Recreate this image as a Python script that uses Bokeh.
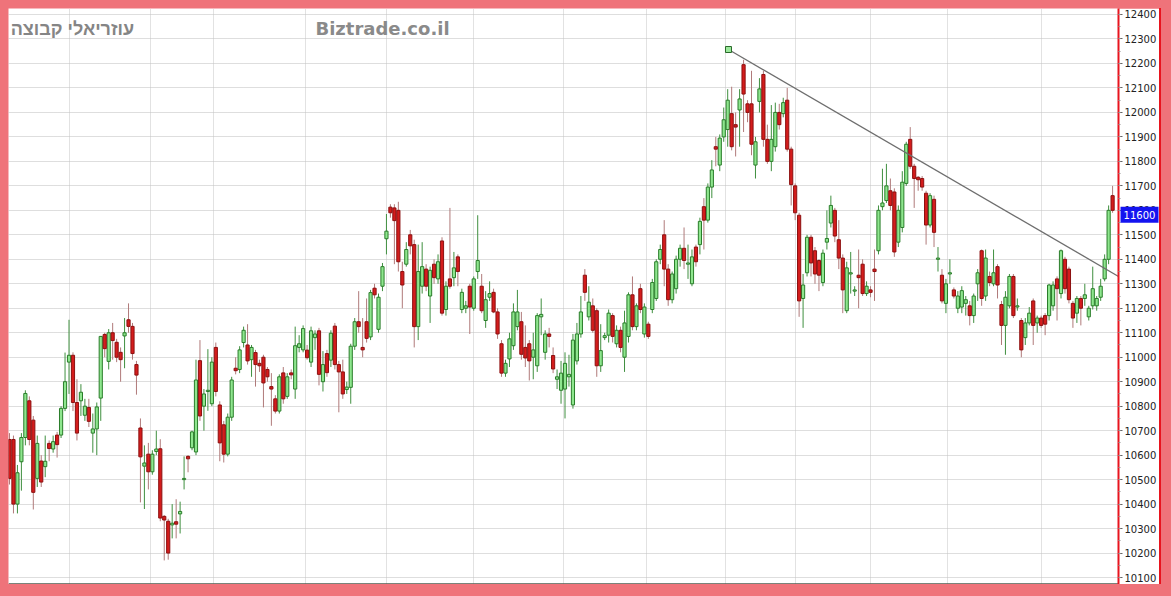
import numpy as np
from bokeh.plotting import figure
from bokeh.models import ColumnDataSource, FixedTicker, Label, Range1d, Grid
from bokeh.core.properties import value
from bokeh.embed import file_html
from bokeh.resources import INLINE

# ---- data ----
opens = [10664,10664,10400,10573,10672,10822,10743,10505,10576,10553,10648,10625,10682,10682,10791,10980,11008,10815,10822,10763,
         10795,10690,10707,10833,11093,10983,11100,11061,11020,11087,11153,11126,10970,10711,10555,10604,10532,10615,10626,10350,
         10330,10315,10328,10360,10500,10595,10630,10613,10986,10800,10860,10810,11040,10805,10724,10604,10755,10955,10950,11060,
         11050,10990,11019,10975,11000,10950,10880,10830,10780,10936,10840,10936,10870,11040,11030,11029,10980,11080,11108,10900,
         11015,10988,11127,10970,10940,10868,10877,11045,11145,11040,11145,11083,11282,11114,11290,11484,11613,11610,11600,11350,
         11380,11500,11460,11125,11290,11360,11250,11380,11320,11475,11195,11320,11325,11410,11195,11200,11290,11200,11350,11290,
         11150,11245,11265,11185,11055,10935,10993,11047,11125,11145,11040,11055,11000,10965,11165,11020,11095,11007,10910,10865,
         10870,10920,10805,10985,11095,11335,11165,11210,11190,10965,11080,11090,11170,11055,11110,11000,11085,11255,11125,11280,
         11095,11135,11195,11240,11400,11500,11360,11235,11280,11400,11445,11380,11300,11450,11460,11615,11560,11695,11860,11785,
         11900,11930,11995,11950,12010,12195,12035,12035,11785,12045,12155,11890,11800,11860,12000,11995,12050,11850,11700,11580,
         11240,11345,11490,11435,11395,11305,11470,11548,11600,11480,11405,11190,11340,11270,11335,11380,11260,11275,11360,11435,
         11615,11640,11680,11675,11470,11530,11710,11890,11780,11735,11730,11670,11540,11645,11400,11335,11220,11340,11275,11200,
         11205,11220,11210,11170,11300,11435,11250,11330,11300,11370,11215,11130,11210,11330,11205,11150,11080,11140,11230,11140,
         11160,11170,11170,11210,11320,11260,11400,11360,11220,11180,11240,11240,11165,11210,11210,11245,11320,11400,11660]
highs = [10690,10680,10560,10690,10865,10840,10760,10680,10600,10680,10660,10680,10695,10800,11019,11153,11020,10910,10890,10830,
         10830,10770,10815,11085,11100,11115,11140,11075,11040,11160,11220,11140,10985,10750,10640,10650,10620,10700,10665,10355,
         10340,10400,10420,10410,10595,10600,10700,10990,11070,10870,11033,11000,11060,10820,10740,10770,10920,11000,11045,11125,
         11135,11050,11030,10990,11010,10960,10935,10845,10930,10960,10935,10950,11125,11090,11130,11050,11125,11110,11120,11025,
         11030,11110,11140,10985,10990,10900,11055,11160,11270,11160,11240,11275,11300,11260,11385,11585,11625,11625,11635,11390,
         11470,11520,11480,11460,11470,11380,11370,11400,11420,11490,11310,11610,11430,11420,11280,11230,11300,11330,11580,11340,
         11270,11310,11280,11200,11070,10990,11100,11220,11275,11185,11130,11070,11100,11180,11240,11110,11120,11040,10950,10985,
         11020,11010,11095,11140,11250,11360,11290,11240,11200,11135,11100,11195,11180,11130,11125,11190,11265,11330,11220,11300,
         11220,11145,11320,11400,11460,11560,11380,11350,11415,11460,11530,11460,11440,11460,11570,11650,11710,11805,11900,11910,
         12020,12095,12105,12000,12095,12215,12050,12170,11900,12140,12170,11950,12030,12040,12035,12060,12100,11860,11710,11590,
         11340,11500,11500,11450,11400,11440,11600,11660,11610,11560,11420,11390,11430,11290,11440,11400,11310,11290,11440,11620,
         11770,11790,11730,11690,11620,11760,11880,11940,11790,11740,11740,11680,11670,11660,11450,11360,11320,11400,11285,11270,
         11290,11250,11230,11260,11360,11440,11440,11350,11440,11380,11230,11270,11340,11340,11240,11160,11160,11205,11240,11170,
         11170,11180,11300,11310,11330,11440,11410,11370,11230,11250,11250,11300,11210,11370,11250,11320,11420,11620,11700]
lows = [10480,10362,10362,10455,10640,10640,10378,10470,10470,10510,10575,10610,10590,10670,10780,10850,10780,10660,10760,10740,
        10715,10610,10600,10740,11000,10950,10990,10980,10900,10955,11100,10990,10847,10407,10380,10460,10520,10600,10330,10170,
        10173,10260,10260,10280,10460,10530,10620,10600,10740,10700,10781,10800,10840,10575,10570,10595,10740,10930,10935,11040,
        10970,10920,10880,10940,10795,10900,10720,10770,10770,10810,10830,10910,10830,11020,11020,10990,10960,11030,10885,10860,
        10920,10960,10950,10775,10830,10850,10810,11030,11100,11000,11060,11070,11240,11100,11270,11420,11570,11380,11350,11200,
        11370,11420,11040,11070,11260,11270,11140,11300,11300,11170,11170,11280,11290,11290,11180,11180,11095,11190,11320,11180,
        11120,11230,11180,11075,10920,10920,10960,11030,11110,10990,10960,10905,10910,10940,11090,10990,11040,10935,10870,10810,
        10750,10880,10790,10970,11080,11230,11150,11100,10920,10940,11070,11060,11060,11040,11020,10940,11060,11110,11110,11180,
        11080,11075,11180,11230,11380,11290,11210,11220,11260,11370,11360,11320,11290,11370,11420,11440,11550,11650,11780,11760,
        11880,11860,11845,11820,11860,11920,11960,11825,11730,12000,11860,11790,11760,11840,11930,11980,11840,11620,11560,11165,
        11120,11330,11330,11300,11270,11290,11440,11530,11470,11360,11180,11180,11260,11250,11200,11250,11250,11245,11230,11420,
        11600,11630,11600,11410,11450,11510,11700,11770,11610,11680,11680,11460,11530,11450,11350,11220,11180,11300,11240,11180,
        11180,11170,11130,11140,11230,11210,11230,11290,11290,11240,11050,11010,11200,11160,11190,11000,11050,11130,11050,11100,
        11120,11090,11150,11190,11150,11240,11260,11220,11120,11140,11130,11210,11150,11195,11190,11230,11310,11380,11590]
closes = [10505,10400,10528,10672,10852,10664,10448,10648,10490,10575,10627,10655,10643,10791,10900,11008,10815,10690,10857,10800,
          10738,10707,10797,11085,11035,11100,11068,11000,10990,11100,11126,11015,10927,10593,10568,10532,10604,10625,10343,10335,
          10200,10322,10318,10370,10505,10585,10695,10907,10760,10850,10865,10980,10860,10650,10604,10755,10907,10945,11030,11110,
          10985,11040,10970,10965,10895,10920,10870,10780,10920,10830,10920,10928,11047,11055,11117,10998,11108,11095,10930,10970,
          10937,11098,10970,10940,10850,10878,11045,11145,11125,11030,11077,11264,11255,11245,11370,11515,11590,11558,11390,11295,
          11440,11455,11125,11350,11370,11290,11355,11325,11390,11180,11290,11290,11365,11350,11265,11210,11205,11320,11395,11190,
          11235,11260,11185,11095,10935,10975,11075,11185,11185,11012,10997,10985,11030,11170,11175,11095,11085,10952,10920,10935,
          10975,10930,11070,11095,11185,11265,11225,11110,10965,11027,11088,11180,11085,11110,11040,11140,11255,11125,11210,11195,
          11205,11085,11305,11390,11440,11360,11235,11340,11400,11445,11395,11385,11410,11390,11555,11560,11695,11765,11850,11895,
          11970,12050,11860,11940,12055,12075,12000,11870,11880,12096,11890,11800,11890,12000,11950,12040,11850,11705,11590,11230,
          11295,11490,11385,11340,11335,11425,11485,11620,11495,11405,11275,11365,11345,11275,11325,11260,11290,11265,11350,11600,
          11630,11700,11620,11430,11600,11715,11870,11780,11730,11725,11695,11540,11660,11510,11405,11230,11300,11345,11250,11250,
          11272,11235,11170,11250,11345,11240,11405,11305,11345,11295,11130,11245,11330,11170,11210,11030,11140,11180,11130,11160,
          11130,11135,11295,11295,11280,11435,11280,11235,11160,11240,11200,11255,11200,11280,11240,11290,11400,11600,11600]

month_starts = [15, 35.5, 51.5, 74.5, 95, 117, 139.5, 160.5, 180.5, 198, 217, 236.5, 260]
y_ticks = list(range(10100, 12500, 100))
y_minor = list(range(10050, 12450, 50))
trend_x = [181.2, 279.5]
trend_y = [12257, 11330]
last_price = 11600
title_left = "עוזריאלי קבוצה"
title_site = "Biztrade.co.il"

# ---- build ----
n = len(closes)
idx = np.arange(n)
o = np.array(opens, float); h = np.array(highs, float)
l = np.array(lows, float); c = np.array(closes, float)
up = c >= o

wick_col = np.where(up, "#3f8f3f", "#b07a7a")
src_w = ColumnDataSource(dict(x=idx, h=h, l=l, col=wick_col))
top = np.maximum(o, c); bot = np.minimum(o, c)
src_up = ColumnDataSource(dict(x=idx[up], top=top[up], bot=bot[up]))
src_dn = ColumnDataSource(dict(x=idx[~up], top=top[~up], bot=bot[~up]))

X0, X1 = -0.25, 279.49
p = figure(frame_width=1110, frame_height=576,
           x_range=Range1d(X0, X1), y_range=Range1d(10071.6, 12424.5),
           x_axis_location=None, y_axis_location="right",
           toolbar_location=None, output_backend="svg",
           min_border_left=0, min_border_top=0, min_border_bottom=0, min_border_right=40,
           background_fill_color="white", border_fill_color="white")
p.outline_line_color = None
p.styles = {"border-right": "2px solid #e8141e"}

# grids
p.ygrid.ticker = FixedTicker(ticks=y_ticks)
p.ygrid.grid_line_color = "#bdbdbd"
p.ygrid.grid_line_dash = "1 1"
p.xgrid.visible = False
vg = Grid(dimension=0, ticker=FixedTicker(ticks=month_starts),
          grid_line_color="#c4c4c4", grid_line_dash="1 1")
p.add_layout(vg)

# axis
ax = p.yaxis[0]
ax.ticker = FixedTicker(ticks=y_ticks, minor_ticks=y_minor)
ax.axis_line_color = "#e8141e"
ax.axis_line_width = 2
ax.major_tick_line_color = "#666666"
ax.major_tick_out = 4
ax.major_tick_in = 0
ax.minor_tick_line_color = "#999999"
ax.minor_tick_out = 2
ax.minor_tick_in = 0
ax.major_label_text_font = "DejaVu Sans"
ax.major_label_text_font_size = "10px"
ax.major_label_text_color = "#222222"
ax.major_label_standoff = 2

# candles
p.segment(x0="x", y0="l", x1="x", y1="h", color="col", line_width=1, source=src_w)
p.vbar(x="x", top="top", bottom="bot", width=0.8, fill_color="#8ee68e",
       line_color="#2a7d2a", line_width=1, source=src_up)
p.vbar(x="x", top="top", bottom="bot", width=0.8, fill_color="#d41c1c",
       line_color="#8c1010", line_width=1, source=src_dn)

# trend line
p.line(trend_x, trend_y, line_color="#6e6e6e", line_width=1.3)
p.scatter([trend_x[0]], [trend_y[0]], marker="square", size=6,
          fill_color="#9be89b", line_color="#2a6a2a", line_width=1)

# bottom axis line
p.segment(x0=[X0], y0=[10073], x1=[X1], y1=[10073], line_color="#4e5a4e", line_width=2)

# texts
p.add_layout(Label(x=0.3, y=12342, text=title_left, text_font="Liberation Sans",
                   text_font_size="18px", text_font_style="bold", text_color="#858585",
                   text_baseline="middle", text_align="left"))
p.add_layout(Label(x=77.1, y=12342, text=title_site, text_font="DejaVu Sans",
                   text_font_size="18px", text_font_style="bold", text_color="#8a8a8a",
                   text_baseline="middle", text_align="left"))

# current price badge on the price scale (drawn at overlay level so it sits on the axis)
badge_x = X1 + 5.3
badge_y = last_price - 18
p.rect(x=[badge_x], y=[badge_y], width=38, height=16, width_units="screen",
       height_units="screen", fill_color="#1414f0", line_color=None, level="overlay")
p.text(x=[badge_x], y=[badge_y], text=[str(last_price)], text_font=value("DejaVu Sans"),
       text_font_size="10px", text_color="white", text_align="center",
       text_baseline="middle", level="overlay")

html = file_html(p, INLINE)
css = ("<style>html, body { background-color:#ef737a !important; }"
       " body { padding:8px !important; margin:0 !important; }</style></head>")
html = html.replace("</head>", css, 1)
open("out.html", "w").write(html)
